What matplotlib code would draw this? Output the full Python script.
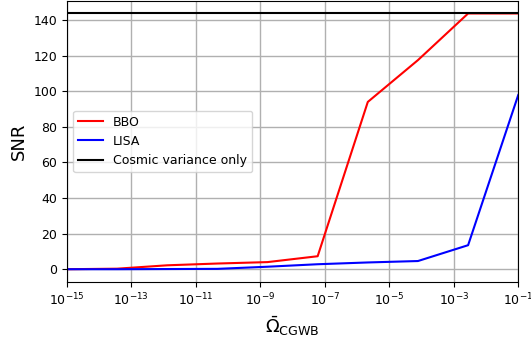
import numpy as np
import matplotlib
matplotlib.use("Agg")
import matplotlib.pyplot as plt

# background density parameter values (log-spaced)
omega = np.logspace(-15, -1, 10)

snr_bbo = [0.0, 0.3, 2.2, 3.2, 4.0, 7.3, 94.0, 117.5, 143.7, 143.7]
snr_lisa = [0.0, 0.0, 0.1, 0.2, 1.4, 2.8, 3.8, 4.6, 13.5, 97.9]
snr_cv = [143.7] * 10

plt.rcParams['font.size'] = 9

fig = plt.figure(figsize=(5.31, 3.41), dpi=100)
ax = fig.add_axes([0.126, 0.173, 0.85, 0.825])

ax.plot(omega, snr_bbo, color='red', label='BBO')
ax.plot(omega, snr_lisa, color='blue', label='LISA')
ax.plot(omega, snr_cv, color='black', label='Cosmic variance only')

ax.set_xscale('log')
ax.set_xlim(1e-15, 1e-1)
ax.set_xticks([1e-15, 1e-13, 1e-11, 1e-9, 1e-7, 1e-5, 1e-3, 1e-1])
ax.minorticks_off()
ax.grid(True, color='#b0b0b0', linewidth=1)
ax.set_xlabel(r'$\bar{\Omega}_{\rm CGWB}$', fontsize=13)
ax.set_ylabel('SNR', fontsize=13)
ax.legend(loc='center left')

fig.savefig('out.png', dpi=100)
